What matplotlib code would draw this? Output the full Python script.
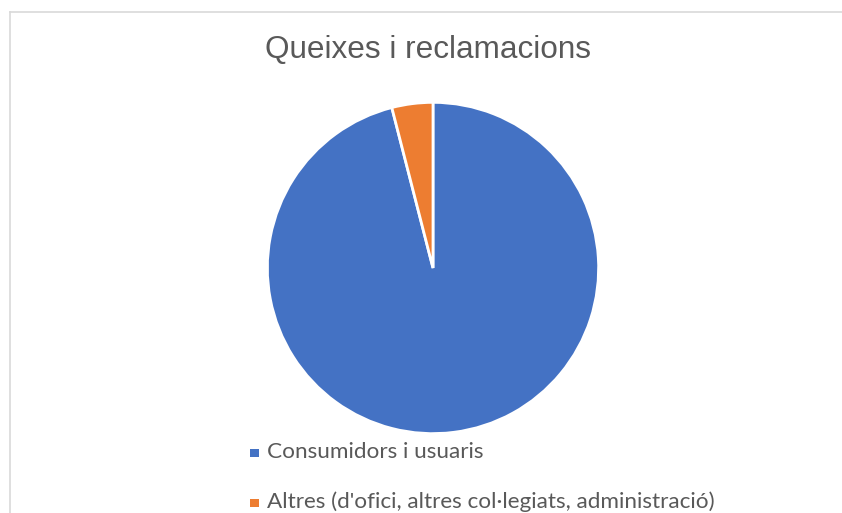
import matplotlib
matplotlib.use('Agg')
from matplotlib import pyplot as plt
from matplotlib.patches import Rectangle
from matplotlib.lines import Line2D

# dades
categories = ['Consumidors i usuaris',
              "Altres (d'ofici, altres col·legiats, administració)"]
valors = [96, 4]
colors = ['#4472C4', '#ED7D31']
titol = 'Queixes i reclamacions'

fig = plt.figure(figsize=(8.42, 5.13), dpi=100)
W, H = 842, 513

# marc del grafic (nomes es veu a dalt i a l'esquerra)
fig.add_artist(Line2D([10/W, 10/W], [0, 1 - 12/H], color='#d9d9d9', lw=1.2))
fig.add_artist(Line2D([10/W, 1], [1 - 12/H, 1 - 12/H], color='#d9d9d9', lw=1.2))

ax = fig.add_axes([0.3195, 0.1579, 0.3895, 0.6394])
ax.pie(valors, colors=colors, startangle=90, counterclock=False,
       wedgeprops=dict(edgecolor='white', linewidth=2))
ax.set_xlim(-0.99, 0.99)
ax.set_ylim(-0.99, 0.99)
ax.set_aspect('equal')

fig.text(428/W, 1 - 58/H, titol, ha='center', va='baseline', fontsize=22.7,
         color='#595959', family='Liberation Sans')

# llegenda feta a ma
y_base = [458, 508]
for cat, col, yb in zip(categories, colors, y_base):
    fig.add_artist(Rectangle((250/W, 1 - (yb - 1)/H), 8.5/W, 8.5/H,
                             transform=fig.transFigure, facecolor=col,
                             edgecolor='none'))
    fig.text(267/W, 1 - yb/H, cat, ha='left', va='baseline', fontsize=16.2,
             color='#595959', family='Lato')

fig.savefig('out.png', dpi=100)
